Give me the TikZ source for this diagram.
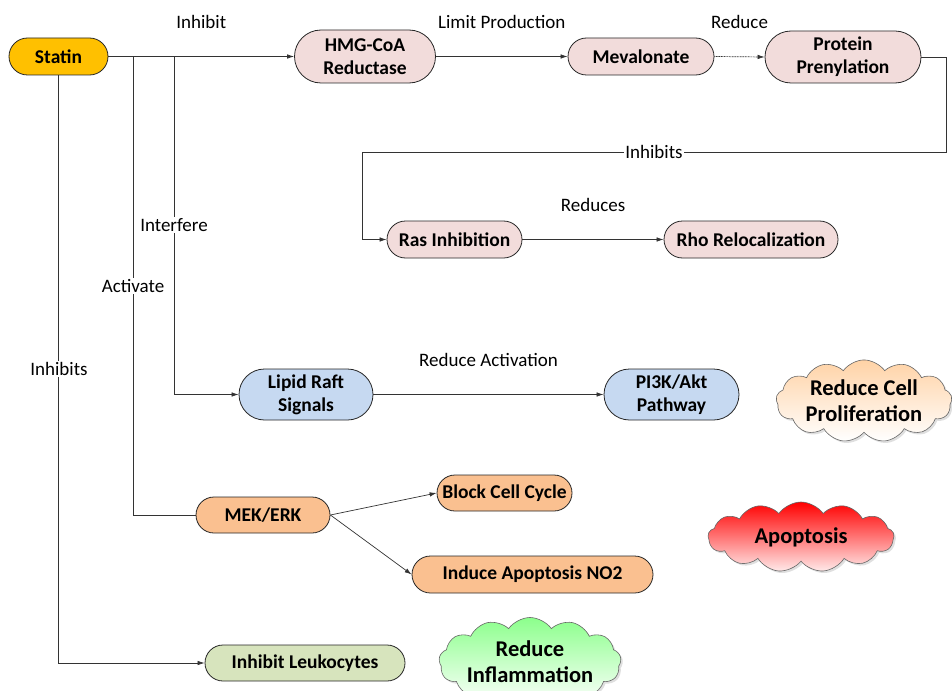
\documentclass[tikz,border=0pt]{standalone}
\usepackage{fontspec}
\setmainfont{Carlito}
\usetikzlibrary{arrows.meta,shapes.symbols,shapes.misc,shadows}
\definecolor{statinfill}{HTML}{FFC000}
\definecolor{pinkfill}{HTML}{F2DCDB}
\definecolor{bluefill}{HTML}{C6D9F1}
\definecolor{orangefill}{HTML}{FAC090}
\definecolor{greenfill}{HTML}{D7E4BD}
\tikzset{
  pill/.style={rounded rectangle, draw=black!85, line width=0.8pt, font=\fontsize{19.5}{23}\selectfont\bfseries, align=center, inner sep=0pt},
  arr/.style={line width=0.7pt, draw=black!80, -{Latex[length=7pt,width=4.5pt]}},
  plain/.style={line width=0.7pt, draw=black!80},
  lbl/.style={font=\fontsize{19}{21}\selectfont, inner sep=1pt},
  puff/.style={cloud, cloud puffs=13, cloud puff arc=110, aspect=2.6, draw=black!60, line width=0.6pt,
    font=\fontsize{22.5}{26}\selectfont\bfseries, align=center, inner sep=0pt,
    drop shadow={shadow xshift=2pt, shadow yshift=-2pt, fill=black!25}}
}
\begin{document}
\begin{tikzpicture}[x=1pt,y=-1pt]
\useasboundingbox (0,0) rectangle (952,690);
% main nodes
\node[pill, fill=statinfill, minimum width=99pt, minimum height=37pt] (statin) at (58.5,56.5) {Statin};
\node[pill, fill=pinkfill, minimum width=141pt, minimum height=53pt] (hmg) at (365,56.5) {HMG-CoA\\Reductase};
\node[pill, fill=pinkfill, minimum width=146pt, minimum height=37pt] (meva) at (641,56.5) {Mevalonate};
\node[pill, fill=pinkfill, minimum width=156pt, minimum height=52pt] (pren) at (843,57) {Protein\\Prenylation};
\node[pill, fill=pinkfill, minimum width=135pt, minimum height=37pt] (ras) at (454.5,239.5) {Ras Inhibition};
\node[pill, fill=pinkfill, minimum width=174pt, minimum height=37pt] (rho) at (751,239.5) {Rho Relocalization};
\node[pill, fill=bluefill, minimum width=134pt, minimum height=51pt] (raft) at (306,394.5) {Lipid Raft\\Signals};
\node[pill, fill=bluefill, minimum width=135pt, minimum height=51pt] (pi3k) at (671.5,394.5) {PI3K/Akt\\Pathway};
\node[pill, fill=orangefill, minimum width=134pt, minimum height=36pt] (mek) at (263,515) {MEK/ERK};
\node[pill, fill=orangefill, minimum width=135pt, minimum height=36pt] (block) at (504.5,493) {Block Cell Cycle};
\node[pill, fill=orangefill, minimum width=241pt, minimum height=37pt] (induce) at (532.5,574.5) {Induce Apoptosis NO2};
\node[pill, fill=greenfill, minimum width=200pt, minimum height=36pt] (leuko) at (305,663) {Inhibit Leukocytes};
% outcome clouds
\node[puff, top color=orange!35, bottom color=white, minimum width=176pt, minimum height=72pt] (prolif) at (864,401) {Reduce Cell\\Proliferation};
\node[puff, top color=red, bottom color=red!8, minimum width=186pt, minimum height=70pt] (apop) at (801,537) {Apoptosis};
\node[puff, top color=green!45, bottom color=white, minimum width=168pt, minimum height=78pt] (inflam) at (530,662) {Reduce\\Inflammation};
% routing points
\coordinate (j1) at (133,57);
\coordinate (j2) at (174,57);
\coordinate (r1) at (946,57);
\coordinate (r2) at (946,152);
\coordinate (r3) at (362,152);
% connectors
\draw[arr] (statin.east) -- (hmg.west) node[lbl, midway, yshift=35pt] {Inhibit};
\draw[arr] (hmg.east) -- (meva.west) node[lbl, midway, yshift=35pt] {Limit Production};
\draw[arr, dash pattern=on 1pt off 0.6pt] (meva.east) -- (pren.west) node[lbl, midway, yshift=35pt] {Reduce};
\draw[arr] (pren.east) -- (r1) -- (r2) -- (r3) |- (ras.west);
\node[lbl, fill=white] at (654,152) {Inhibits};
\draw[arr] (ras.east) -- (rho.west) node[lbl, midway, yshift=35pt] {Reduces};
\draw[arr] (raft.east) -- (pi3k.west) node[lbl, midway, yshift=35pt] {Reduce Activation};
\draw[plain] (j1) |- (mek.west);
\node[lbl, fill=white] at (133,286) {Activate};
\draw[arr] (j2) |- (raft.west);
\node[lbl, fill=white] at (174,225) {Interfere};
\draw[arr] (statin.south) |- (leuko.west);
\node[lbl, fill=white] at (59,369) {Inhibits};
\draw[arr] (mek.east) -- (block.west);
\draw[arr] (mek.east) -- (induce.west);
\end{tikzpicture}
\end{document}
